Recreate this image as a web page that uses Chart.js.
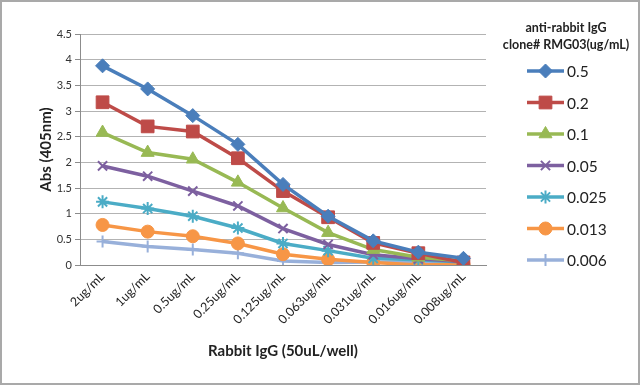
<!DOCTYPE html>
<html>
<head>
<meta charset="utf-8">
<script src="https://cdn.jsdelivr.net/npm/chart.js@4"></script>
<style>
  html, body { margin: 0; padding: 0; background: #fff; }
  #wrap { width: 640px; height: 385px; }
</style>
</head>
<body>
<div id="wrap"><canvas id="abs" width="640" height="385"></canvas></div>
<script>
var categories = ["2ug/mL", "1ug/mL", "0.5ug/mL", "0.25ug/mL", "0.125ug/mL", "0.063ug/mL", "0.031ug/mL", "0.016ug/mL", "0.008ug/mL"];
var seriesNames = ["0.5", "0.2", "0.1", "0.05", "0.025", "0.013", "0.006"];
var s05   = [3.88, 3.43, 2.91, 2.35, 1.57, 0.95, 0.47, 0.25, 0.13];
var s02   = [3.17, 2.70, 2.60, 2.08, 1.44, 0.93, 0.43, 0.23, 0.05];
var s01   = [2.58, 2.19, 2.06, 1.61, 1.11, 0.63, 0.30, 0.15, 0.08];
var s005  = [1.93, 1.73, 1.44, 1.15, 0.71, 0.40, 0.20, 0.12, 0.07];
var s0025 = [1.23, 1.10, 0.95, 0.72, 0.42, 0.28, 0.13, 0.10, 0.06];
var s0013 = [0.78, 0.65, 0.56, 0.42, 0.21, 0.11, 0.05, 0.00, 0.02];
var s0006 = [0.46, 0.36, 0.30, 0.23, 0.08, 0.05, 0.06, 0.06, 0.05];
var yTicks = [0, 0.5, 1, 1.5, 2, 2.5, 3, 3.5, 4, 4.5];

var FONT = 'Lato, "Open Sans", sans-serif';

var looks = [
  { color: "#4a7ebb", style: "rectRot", r: 7 },
  { color: "#be4b48", style: "rect", r: 9 },
  { color: "#98b954", style: "triangle", r: 7.5 },
  { color: "#7d60a0", style: "crossRot", r: 6.5 },
  { color: "#4bacc6", style: "star", r: 6.5 },
  { color: "#f79646", style: "circle", r: 6.5 },
  { color: "#98b0da", style: "cross", r: 6 }
];
var values = [s05, s02, s01, s005, s0025, s0013, s0006];

var datasets = values.map(function (v, i) {
  var lk = looks[i];
  return {
    label: seriesNames[i],
    data: v,
    borderColor: lk.color,
    backgroundColor: lk.color,
    borderWidth: 3.5,
    pointStyle: lk.style,
    pointRadius: lk.r,
    pointBorderWidth: (lk.style === "crossRot" || lk.style === "star" || lk.style === "cross") ? 2 : 1,
    pointBorderColor: lk.color,
    pointBackgroundColor: lk.color,
    tension: 0,
    fill: false
  };
});

// right-hand legend with a two-line title and line + marker samples
var sideLegend = {
  id: "sideLegend",
  afterDraw: function (chart) {
    var ctx = chart.ctx;
    ctx.save();
    ctx.fillStyle = "#222";
    ctx.textAlign = "center";
    ctx.textBaseline = "middle";
    ctx.font = "bold 12.5px " + FONT;
    ctx.fillText("anti-rabbit IgG", 566, 28);
    ctx.fillText("clone# RMG03(ug/mL)", 566, 45);
    chart.data.datasets.forEach(function (ds, i) {
      var y = 71 + i * 31.5;
      ctx.strokeStyle = ds.borderColor;
      ctx.lineWidth = 3.5;
      ctx.beginPath();
      ctx.moveTo(527, y);
      ctx.lineTo(564, y);
      ctx.stroke();
      ctx.fillStyle = ds.pointBackgroundColor;
      ctx.strokeStyle = ds.pointBorderColor;
      ctx.lineWidth = ds.pointBorderWidth;
      Chart.helpers.drawPoint(ctx, { pointStyle: ds.pointStyle, radius: ds.pointRadius, borderWidth: ds.pointBorderWidth, rotation: 0 }, 545.5, y);
      ctx.fillStyle = "#222";
      ctx.textAlign = "left";
      ctx.font = "15.5px " + FONT;
      ctx.fillText(ds.label, 567, y + 1);
    });
    ctx.restore();
  }
};

var frame = {
  id: "frame",
  beforeDraw: function (chart) {
    var ctx = chart.ctx;
    ctx.save();
    ctx.fillStyle = "#fff";
    ctx.fillRect(0, 0, chart.width, chart.height);
    ctx.strokeStyle = "#a9a9a9";
    ctx.lineWidth = 2;
    ctx.strokeRect(1, 1, chart.width - 2, chart.height - 2);
    ctx.restore();
  }
};

new Chart(document.getElementById("abs").getContext("2d"), {
  type: "line",
  data: { labels: categories, datasets: datasets },
  plugins: [frame, sideLegend],
  options: {
    responsive: false,
    animation: false,
    layout: { padding: { top: 34, right: 154, left: 0, bottom: 0 } },
    plugins: {
      legend: { display: false },
      tooltip: { enabled: false }
    },
    scales: {
      x: {
        offset: true,
        grid: { display: false, drawTicks: false },
        border: { display: true, color: "#8c8c8c", width: 1 },
        ticks: {
          color: "#222",
          font: { family: FONT, size: 12.5 },
          minRotation: 45,
          maxRotation: 45,
          padding: 4
        },
        title: {
          display: true,
          text: "Rabbit IgG (50uL/well)",
          color: "#222",
          font: { family: FONT, size: 15, weight: "bold" },
          padding: { top: 0, bottom: 25 }
        },
        afterFit: function (s) { s.height = 120; }
      },
      y: {
        min: 0,
        max: 4.5,
        afterBuildTicks: function (s) {
          s.ticks = yTicks.map(function (v) { return { value: v }; });
        },
        grid: { color: "#b3b3b3", lineWidth: 1, tickLength: 5, tickColor: "#8c8c8c" },
        border: { display: true, color: "#8c8c8c", width: 1 },
        ticks: {
          color: "#333",
          font: { family: FONT, size: 11 },
          padding: 3,
          callback: function (v) { return String(v); }
        },
        title: {
          display: true,
          text: "Abs (405nm)",
          color: "#222",
          font: { family: FONT, size: 15, weight: "bold" },
          padding: { top: 37, bottom: 0 }
        },
        afterFit: function (s) { s.width = 80; }
      }
    }
  }
});
</script>
</body>
</html>
